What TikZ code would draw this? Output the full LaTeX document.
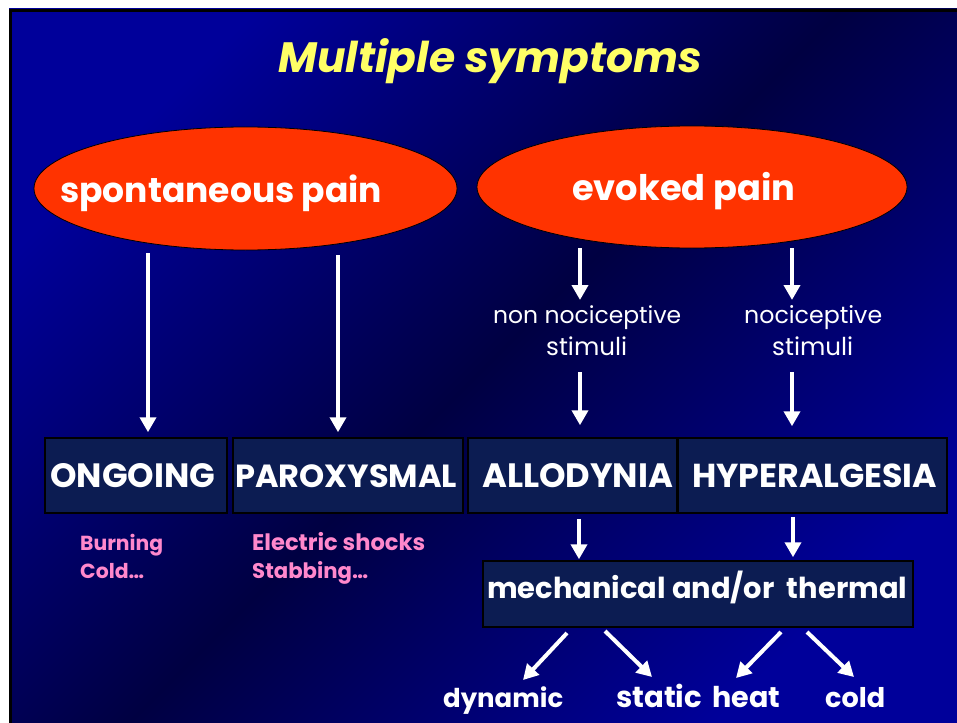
\documentclass[tikz,border=0pt]{standalone}
\usepackage{fontspec}
\setmainfont{Poppins}
\usetikzlibrary{arrows.meta,shapes.geometric}
\definecolor{bgA}{HTML}{00009A}
\definecolor{bgD}{HTML}{000042}
\definecolor{ttl}{HTML}{FFFF66}
\definecolor{ellc}{HTML}{FF3300}
\definecolor{boxc}{HTML}{0C1C52}
\definecolor{pinkc}{HTML}{FF88CC}
\pgfdeclarehorizontalshading{bgdiag}{100bp}{color(0bp)=(bgA); color(25bp)=(bgA); color(50bp)=(bgD); color(75bp)=(bgA); color(100bp)=(bgA)}
\newcommand\fitto[2]{\setbox0=\hbox{\fontsize{10pt}{12pt}\selectfont #2}\dimen0=\wd0\relax\pgfmathsetmacro\fitfs{10*#1/\the\dimen0}\fontsize{\fitfs pt}{\fitfs pt}\selectfont #2}
\begin{document}
\begin{tikzpicture}[x=1pt,y=-1pt,
  txt/.style={inner sep=0pt, anchor=base west, text=white},
  bold/.style={font=\bfseries},
  ell/.style={ellipse, draw=black, line width=0.8pt, fill=ellc, inner sep=0pt},
  boxs/.style={draw=black, line width=1.5pt, fill=boxc, inner sep=0pt},
  arr/.style={draw=white, line width=4pt, -{Triangle[width=16pt,length=15pt]}}]
\useasboundingbox (0,0) rectangle (957,722);
\fill[white] (0,0) rectangle (957,722);
\shade[shading=bgdiag, shading angle=-45] (9,9) rectangle (960,725);
\draw[black, line width=3pt] (10.5,725) -- (10.5,10.5) -- (960,10.5);
% title
\node[txt, text=ttl, font=\bfseries\itshape] (title) at (278,73) {\fitto{424}{Multiple symptoms}};
% ellipses
\node[ell, minimum width=423pt, minimum height=123pt] (sp) at (245.5,188.5) {};
\node[ell, minimum width=430pt, minimum height=122pt] (ev) at (692,187) {};
\node[txt, bold] (spt) at (60,202) {\fitto{322}{spontaneous pain}};
\node[txt, bold] (evt) at (572,200) {\fitto{223}{evoked pain}};
% boxes
\node[boxs, minimum width=182pt, minimum height=75pt] (ongoing) at (136,475.5) {};
\node[boxs, minimum width=230pt, minimum height=75pt] (parox) at (348,475.5) {};
\node[boxs, minimum width=209pt, minimum height=75pt] (allo) at (572.5,475.5) {};
\node[boxs, minimum width=269pt, minimum height=75pt] (hyper) at (812.5,475.5) {};
\node[boxs, minimum width=430pt, minimum height=66pt] (mech) at (698,594) {};
\node[txt, bold] (ongoingt) at (50,487) {\fitto{165}{ONGOING}};
\node[txt, bold] (paroxt) at (235,487) {\fitto{222}{PAROXYSMAL}};
\node[txt, bold] (allot) at (482,487) {\fitto{191}{ALLODYNIA}};
\node[txt, bold] (hypert) at (692,487) {\fitto{245}{HYPERALGESIA}};
\node[txt, bold] (mecht) at (487,598) {\fitto{420}{mechanical and/or\ \ thermal}};
% pink
\node[txt, bold, text=pinkc] (burn) at (80,550) {\fitto{83}{Burning}};
\node[txt, bold, text=pinkc] (cold1) at (80,578) {\fitto{64}{Cold…}};
\node[txt, bold, text=pinkc] (elec) at (252,550) {\fitto{173}{Electric shocks}};
\node[txt, bold, text=pinkc] (stab) at (252,578) {\fitto{116}{Stabbing…}};
% stimuli
\node[txt] (nn1) at (493,323) {\fitto{188}{non nociceptive}};
\node[txt] (nn2) at (546,355) {\fitto{81}{stimuli}};
\node[txt] (no1) at (744,323) {\fitto{138}{nociceptive}};
\node[txt] (no2) at (772,355) {\fitto{81}{stimuli}};
% bottom
\node[txt, bold] (dyn) at (443,707) {\fitto{120}{dynamic}};
\node[txt, bold] (stat) at (616,707) {\fitto{86}{static}};
\node[txt, bold] (heat) at (712,707) {\fitto{68}{heat}};
\node[txt, bold] (cold) at (825,707) {\fitto{60}{cold}};
% arrows
\coordinate (xa) at (148,0);
\coordinate (xb) at (338,0);
\draw[arr, shorten <=3pt, shorten >=5pt] (sp.south -| xa) -- (ongoing.north -| xa);
\draw[arr, shorten <=5pt, shorten >=5pt] (sp.south -| xb) -- (parox.north -| xb);
\coordinate (c1) at (580,300);
\coordinate (c2) at (580,372);
\coordinate (c3) at (792,300);
\coordinate (c4) at (792,372);
\draw[arr] (ev.south -| c1) -- (c1);
\draw[arr] (ev.south -| c3) -- (c3);
\draw[arr, shorten >=12pt] (c2) -- (allo.north -| c2);
\draw[arr, shorten >=11pt] (c4) -- (hyper.north -| c4);
\coordinate (m1) at (579,0);
\coordinate (m2) at (793,0);
\draw[arr, shorten <=5pt, shorten >=1pt] (allo.south -| m1) -- (mech.north -| m1);
\draw[arr, shorten <=3pt, shorten >=3pt] (hyper.south -| m2) -- (mech.north -| m2);
\coordinate (d1a) at (567,633); \coordinate (d1b) at (523,680);
\coordinate (d2a) at (605,631); \coordinate (d2b) at (652,677);
\coordinate (d3a) at (781,632); \coordinate (d3b) at (736,678);
\coordinate (d4a) at (807,632); \coordinate (d4b) at (854,677);
\draw[arr] (d1a) -- (d1b);
\draw[arr] (d2a) -- (d2b);
\draw[arr] (d3a) -- (d3b);
\draw[arr] (d4a) -- (d4b);
\end{tikzpicture}
\end{document}
